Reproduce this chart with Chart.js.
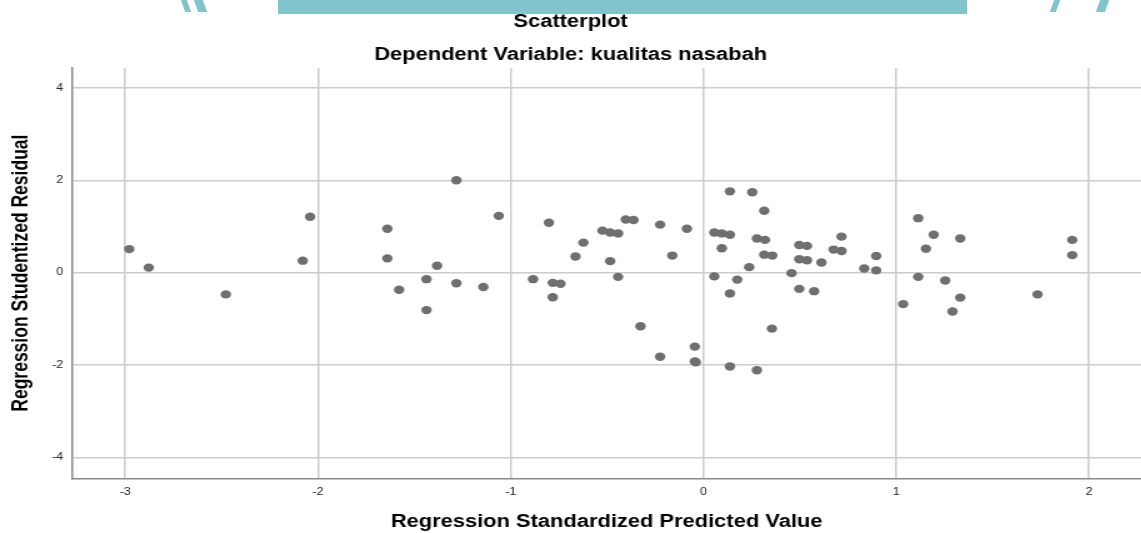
<!DOCTYPE html>
<html>
<head>
<meta charset="utf-8">
<script src="https://cdn.jsdelivr.net/npm/chart.js@4.4.1/dist/chart.umd.min.js"></script>
<style>
  body { margin: 0; background: #fff; overflow: hidden; }
  #wrap { position: absolute; left: 0; top: 0; width: 913px; height: 533px; transform: scaleX(1.25); transform-origin: 0 0; }
  .band { position: absolute; background: #80c4cc; }
</style>
</head>
<body>
<div class="band" style="left:278px;top:0;width:689px;height:14px;"></div>
<div class="band" style="left:183px;top:0;width:6px;height:12px;transform:skewX(20deg);"></div>
<div class="band" style="left:196px;top:0;width:9px;height:12px;transform:skewX(20deg);"></div>
<div class="band" style="left:1052px;top:0;width:6px;height:12px;transform:skewX(-20deg);"></div>
<div class="band" style="left:1098px;top:0;width:9px;height:12px;transform:skewX(-20deg);"></div>
<div id="wrap"><canvas id="scatterCanvas"></canvas></div>
<script>
// regression standardized predicted value (x) and studentized residual (y)
const predicted = [
  -2.979, -2.878, -2.478, -2.079, -2.041, -1.640, -1.640, -1.579, -1.437, -1.437,
  -1.382, -1.282, -1.282, -1.142, -1.062, -0.884, -0.802, -0.782, -0.742, -0.782,
  -0.664, -0.623, -0.524, -0.484, -0.443, -0.403, -0.363, -0.484, -0.443, -0.225,
  -0.162, -0.086, -0.327, -0.225, -0.045, -0.045, -0.040, 0.056, 0.095, 0.137,
  0.095, 0.137, 0.253, 0.315, 0.277, 0.319, 0.315, 0.357, 0.237, 0.056,
  0.175, 0.137, 0.355, 0.137, 0.277, 0.457, 0.497, 0.537, 0.497, 0.537,
  0.612, 0.497, 0.574, 0.675, 0.716, 0.716, 0.834, 0.896, 0.896, 1.114,
  1.194, 1.154, 1.332, 1.114, 1.254, 1.332, 1.292, 1.036, 1.913, 1.913,
  1.733
];
const residual = [
  0.51, 0.11, -0.47, 0.26, 1.21, 0.95, 0.31, -0.37, -0.14, -0.81,
  0.15, 2.00, -0.23, -0.31, 1.23, -0.14, 1.08, -0.22, -0.24, -0.53,
  0.35, 0.65, 0.91, 0.87, 0.85, 1.15, 1.14, 0.25, -0.09, 1.04,
  0.37, 0.95, -1.16, -1.82, -1.60, -1.92, -1.94, 0.87, 0.85, 0.82,
  0.53, 1.76, 1.74, 1.34, 0.74, 0.71, 0.39, 0.37, 0.12, -0.08,
  -0.15, -0.45, -1.21, -2.03, -2.11, -0.01, 0.60, 0.58, 0.29, 0.27,
  0.22, -0.35, -0.40, 0.50, 0.47, 0.78, 0.09, 0.36, 0.05, 1.18,
  0.82, 0.52, 0.74, -0.09, -0.17, -0.54, -0.84, -0.68, 0.71, 0.38,
  -0.47
];
const xTicks = [-3, -2, -1, 0, 1, 2];
const yTicks = [-4, -2, 0, 2, 4];

const points = predicted.map((x, i) => ({ x: x, y: residual[i] }));
const fontFamily = '"Liberation Sans", Arial, sans-serif';

const ctx = document.getElementById('scatterCanvas');
new Chart(ctx, {
  type: 'scatter',
  data: {
    datasets: [{
      label: 'kualitas nasabah',
      data: points,
      pointRadius: 4.2,
      pointHoverRadius: 4.2,
      backgroundColor: '#6f6f6f',
      borderColor: '#6f6f6f',
      borderWidth: 0
    }]
  },
  options: {
    responsive: true,
    maintainAspectRatio: false,
    animation: false,
    layout: { autoPadding: false, padding: 0 },
    plugins: {
      legend: { display: false },
      tooltip: { enabled: false },
      title: {
        display: true,
        text: 'Scatterplot',
        color: '#000',
        font: { family: fontFamily, size: 17.5, weight: 'bold', lineHeight: 1.2 },
        padding: { top: 11.5, bottom: 0 }
      },
      subtitle: {
        display: true,
        text: 'Dependent Variable: kualitas nasabah',
        color: '#000',
        font: { family: fontFamily, size: 17.5, weight: 'bold', lineHeight: 1.2 },
        padding: { top: 12.5, bottom: 2 }
      }
    },
    scales: {
      x: {
        type: 'linear',
        min: -3.276,
        max: 2.271,
        afterFit: function (scale) {
          scale.height = 54.7;
          scale.paddingLeft = 0;
          scale.paddingRight = 0;
        },
        afterBuildTicks: function (scale) { scale.ticks = xTicks.map(v => ({ value: v })); },
        ticks: {
          includeBounds: false,
          padding: 8,
          color: '#222',
          font: { family: fontFamily, size: 10 }
        },
        grid: { color: '#cccccc', lineWidth: 1.5, drawTicks: false },
        border: { color: '#8a8a8a', width: 1.5 },
        title: {
          display: true,
          text: 'Regression Standardized Predicted Value',
          color: '#000',
          font: { family: fontFamily, size: 17.5, weight: 'bold', lineHeight: 1.2 },
          padding: { top: 0, bottom: 0 }
        }
      },
      y: {
        type: 'linear',
        min: -4.45,
        max: 4.43,
        afterFit: function (scale) {
          scale.width = 57.6;
          scale.paddingTop = 0;
          scale.paddingBottom = 0;
        },
        afterBuildTicks: function (scale) { scale.ticks = yTicks.map(v => ({ value: v })); },
        ticks: {
          includeBounds: false,
          padding: 7,
          color: '#222',
          font: { family: fontFamily, size: 10 }
        },
        grid: { color: '#cccccc', lineWidth: 1.5, drawTicks: false },
        border: { color: '#8a8a8a', width: 1.5 },
        title: {
          display: true,
          text: 'Regression Studentized Residual',
          color: '#000',
          font: { family: fontFamily, size: 17.5, weight: 'bold', lineHeight: 1.2 },
          padding: { top: 7, bottom: 0 }
        }
      }
    }
  }
});
</script>
</body>
</html>
